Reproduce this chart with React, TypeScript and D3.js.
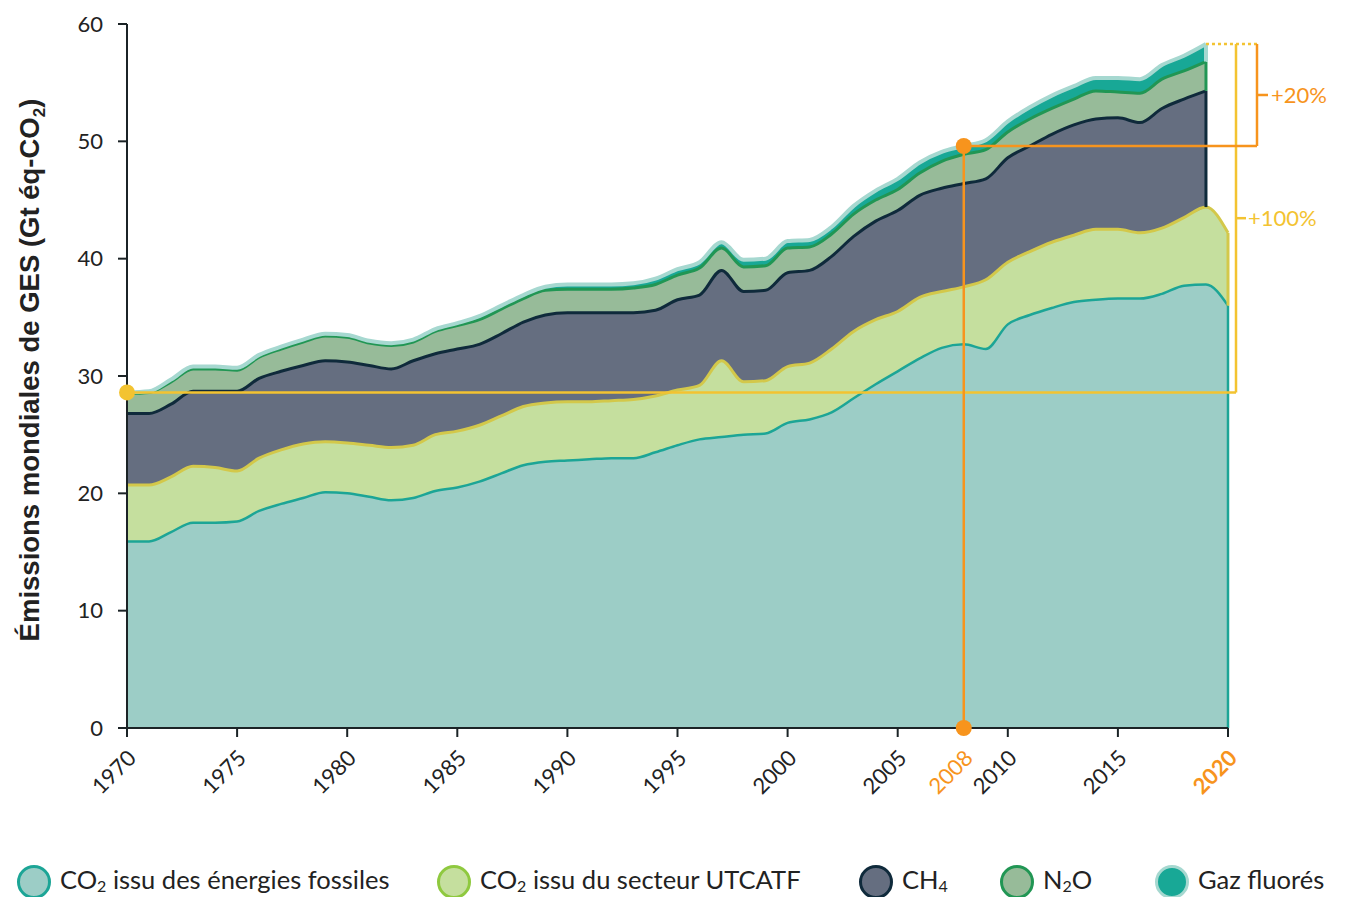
import React from 'react';
import * as d3 from 'd3';

const years = d3.range(1970, 2021);
const fossil = [15.9, 15.9, 16.7, 17.5, 17.5, 17.6, 18.5, 19.1, 19.6, 20.1, 20.0, 19.7, 19.4, 19.6, 20.2, 20.5, 21.0, 21.7, 22.4, 22.7, 22.8, 22.9, 23.0, 23.0, 23.5, 24.1, 24.6, 24.8, 25.0, 25.1, 26.0, 26.3, 26.9, 28.1, 29.3, 30.4, 31.5, 32.4, 32.7, 32.3, 34.4, 35.2, 35.8, 36.3, 36.5, 36.6, 36.6, 37.0, 37.7, 37.8, 36.0];
const utcatf = [4.8, 4.8, 4.7, 4.8, 4.7, 4.3, 4.5, 4.6, 4.6, 4.3, 4.3, 4.4, 4.5, 4.5, 4.8, 4.8, 4.8, 4.9, 5.0, 5.0, 5.0, 4.9, 4.9, 5.0, 4.8, 4.7, 4.6, 6.5, 4.5, 4.5, 4.8, 4.8, 5.4, 5.7, 5.5, 5.1, 5.2, 4.8, 4.9, 5.9, 5.3, 5.4, 5.6, 5.7, 6.0, 5.9, 5.6, 5.6, 5.8, 6.6, 6.2];
const ch4 = [6.1, 6.1, 6.2, 6.4, 6.5, 6.8, 6.8, 6.7, 6.7, 6.9, 6.9, 6.8, 6.7, 7.2, 6.9, 7.0, 6.9, 7.0, 7.2, 7.5, 7.6, 7.6, 7.5, 7.4, 7.3, 7.7, 7.7, 7.7, 7.7, 7.7, 8.0, 7.9, 7.9, 8.1, 8.4, 8.6, 8.7, 8.8, 8.8, 8.6, 8.9, 9.0, 9.2, 9.4, 9.4, 9.5, 9.4, 10.2, 10.1, 9.9];
const n2o = [1.7, 1.8, 1.9, 1.9, 1.9, 1.8, 1.8, 1.9, 2.0, 2.1, 2.1, 1.9, 2.0, 1.6, 1.9, 2.0, 2.1, 2.1, 2.0, 2.1, 2.0, 2.0, 2.0, 2.1, 2.2, 2.1, 2.3, 1.9, 2.1, 2.1, 2.1, 2.0, 1.9, 1.9, 1.8, 1.8, 1.9, 2.3, 2.5, 2.5, 2.2, 2.3, 2.2, 2.2, 2.4, 2.2, 2.5, 2.5, 2.4, 2.5];
const fgas = [0.1, 0.1, 0.2, 0.2, 0.2, 0.2, 0.2, 0.2, 0.2, 0.2, 0.2, 0.2, 0.2, 0.2, 0.2, 0.2, 0.3, 0.3, 0.3, 0.3, 0.4, 0.4, 0.4, 0.4, 0.5, 0.5, 0.5, 0.5, 0.6, 0.6, 0.6, 0.6, 0.6, 0.7, 0.8, 0.9, 0.9, 0.8, 0.7, 0.8, 0.9, 1.0, 1.1, 1.1, 1.1, 1.2, 1.2, 1.2, 1.3, 1.5];

const yTicks = [0, 10, 20, 30, 40, 50, 60];
const xTicks = [1970, 1975, 1980, 1985, 1990, 1995, 2000, 2005, 2010, 2015, 2020];
const refYear = 2008;
const startYear = 1970;
const lastYear = 2019;

const keys = ['fossil', 'utcatf', 'ch4', 'n2o', 'fgas'];
const styles: Record<string, { fill: string; stroke: string; sw: number; legendStroke: string }> = {
  fossil: { fill: '#9ccdc6', stroke: '#1ca596', sw: 2.5, legendStroke: '#1ca596' },
  utcatf: { fill: '#c5df9e', stroke: '#d3c84a', sw: 3, legendStroke: '#8fc93f' },
  ch4: { fill: '#656e80', stroke: '#0f2a3b', sw: 3, legendStroke: '#0f2a3b' },
  n2o: { fill: '#97bb99', stroke: '#219654', sw: 3, legendStroke: '#219654' },
  fgas: { fill: '#18a896', stroke: '#a6d8d0', sw: 4, legendStroke: '#a6d8d0' },
};

const legendItems = [
  { key: 'fossil', cx: 34, parts: [['CO', false], ['2', true], [' issu des énergies fossiles', false]] },
  { key: 'utcatf', cx: 454, parts: [['CO', false], ['2', true], [' issu du secteur UTCATF', false]] },
  { key: 'ch4', cx: 876, parts: [['CH', false], ['4', true]] },
  { key: 'n2o', cx: 1017, parts: [['N', false], ['2', true], ['O', false]] },
  { key: 'fgas', cx: 1172, parts: [['Gaz fluorés', false]] },
];

const YELLOW = '#f3c331';
const ORANGE = '#f7941d';
const FONT = 'Lato, "Noto Sans", sans-serif';

export default function App() {
  const W = 1347, H = 897;
  const x = d3.scaleLinear().domain([1970, 2020]).range([127, 1228]);
  const y = d3.scaleLinear().domain([0, 60]).range([728, 24]);

  const rows = years.map((yr, i) => ({
    year: yr,
    fossil: fossil[i],
    utcatf: utcatf[i],
    ch4: ch4[i] ?? NaN,
    n2o: n2o[i] ?? NaN,
    fgas: fgas[i] ?? NaN,
  }));

  const series = d3.stack<any>().keys(keys).value((d: any, k: string) => (isNaN(d[k]) ? 0 : d[k]))(rows);

  const makeArea = (k: string) =>
    d3.area<any>()
      .defined((d) => !isNaN(d.data[k]))
      .x((d) => x(d.data.year))
      .y0((d) => y(d[0]))
      .y1((d) => y(d[1]))
      .curve(d3.curveMonotoneX);
  const makeLine = (k: string) =>
    d3.line<any>()
      .defined((d) => !isNaN(d.data[k]))
      .x((d) => x(d.data.year))
      .y((d) => y(d[1]))
      .curve(d3.curveMonotoneX);

  const top = series[series.length - 1];
  const idx = (yr: number) => years.indexOf(yr);
  const total1970 = top[idx(startYear)][1];
  const total2008 = top[idx(refYear)][1];
  const total2019 = top[idx(lastYear)][1];

  const xEnd = x(2020);
  const yellowX = xEnd + 8;
  const orangeX = xEnd + 29;
  const yMidYellow = (y(total1970) + y(total2019)) / 2;
  const yMidOrange = (y(total2008) + y(total2019)) / 2;

  const xLabel = (t: number) => `translate(${x(t) + 5},${y(0) + 26}) rotate(-45)`;

  return (
    <svg width={W} height={H} style={{ position: 'absolute', left: 0, top: 0, background: '#fff' }} fontFamily={FONT}>
      {/* areas */}
      {series.map((s) => (
        <path key={'a' + s.key} d={makeArea(s.key)(s as any) || ''} fill={styles[s.key].fill} />
      ))}
      {/* top lines + right edges */}
      {series.map((s) => {
        const st = styles[s.key];
        const pts = (s as any[]).filter((d) => !isNaN(d.data[s.key]));
        const last = pts[pts.length - 1];
        return (
          <g key={'l' + s.key}>
            <path d={makeLine(s.key)(s as any) || ''} fill="none" stroke={st.stroke} strokeWidth={st.sw} strokeLinejoin="round" />
            <line x1={x(last.data.year)} x2={x(last.data.year)} y1={y(last[1])} y2={y(last[0])} stroke={st.stroke} strokeWidth={st.sw} />
          </g>
        );
      })}

      {/* axes */}
      <line x1={127} x2={127} y1={y(60)} y2={y(0)} stroke="#1b2326" strokeWidth={2} />
      <line x1={127} x2={x(2020)} y1={y(0)} y2={y(0)} stroke="#1b2326" strokeWidth={2} />
      {yTicks.map((t) => (
        <g key={'yt' + t}>
          <line x1={118} x2={127} y1={y(t)} y2={y(t)} stroke="#1b2326" strokeWidth={2} />
          <text x={103} y={y(t)} dy="0.35em" textAnchor="end" fontSize={22} fill="#222">{t}</text>
        </g>
      ))}
      {xTicks.map((t) => (
        <g key={'xt' + t}>
          <line x1={x(t)} x2={x(t)} y1={y(0)} y2={y(0) + 9} stroke="#1b2326" strokeWidth={2} />
          <text
            transform={xLabel(t)}
            textAnchor="end"
            dy="0.35em"
            fontSize={22}
            fill={t === 2020 ? ORANGE : '#222'}
            fontWeight={t === 2020 ? 700 : 400}
          >
            {t}
          </text>
        </g>
      ))}
      <text transform={xLabel(refYear)} textAnchor="end" dy="0.35em" fontSize={22} fill={ORANGE}>
        {refYear}
      </text>

      {/* y title */}
      <text
        transform={`translate(39,${370}) rotate(-90)`}
        textAnchor="middle"
        fontSize={27.5}
        fontWeight={700}
        fontFamily='"Liberation Sans", Arial, sans-serif'
        fill="#222"
      >
        Émissions mondiales de GES (Gt éq-CO<tspan fontSize={17} dy={6}>2</tspan><tspan dy={-6}>)</tspan>
      </text>

      {/* yellow annotation */}
      <line x1={x(startYear)} x2={yellowX} y1={y(total1970)} y2={y(total1970)} stroke={YELLOW} strokeWidth={2.5} />
      <line x1={yellowX} x2={yellowX} y1={y(total1970)} y2={y(total2019)} stroke={YELLOW} strokeWidth={2.5} />
      <line x1={x(lastYear)} x2={orangeX} y1={y(total2019)} y2={y(total2019)} stroke={YELLOW} strokeWidth={2.5} strokeDasharray="3,3" />
      <line x1={yellowX} x2={yellowX + 10} y1={yMidYellow} y2={yMidYellow} stroke={YELLOW} strokeWidth={2.5} />
      <text x={yellowX + 12} y={yMidYellow} dy="0.35em" fontSize={22} fill={YELLOW}>+100%</text>
      <circle cx={x(startYear)} cy={y(total1970)} r={8} fill={YELLOW} />

      {/* orange annotation */}
      <line x1={x(refYear)} x2={x(refYear)} y1={y(0)} y2={y(total2008)} stroke={ORANGE} strokeWidth={2.5} />
      <line x1={x(refYear)} x2={orangeX} y1={y(total2008)} y2={y(total2008)} stroke={ORANGE} strokeWidth={2.5} />
      <line x1={orangeX} x2={orangeX} y1={y(total2008)} y2={y(total2019)} stroke={ORANGE} strokeWidth={2.5} />
      <line x1={orangeX} x2={orangeX + 11} y1={yMidOrange} y2={yMidOrange} stroke={ORANGE} strokeWidth={2.5} />
      <text x={orangeX + 14} y={yMidOrange} dy="0.35em" fontSize={22} fill={ORANGE}>+20%</text>
      <circle cx={x(refYear)} cy={y(total2008)} r={8} fill={ORANGE} />
      <circle cx={x(refYear)} cy={y(0)} r={8} fill={ORANGE} />

      {/* legend */}
      {legendItems.map((it) => (
        <g key={'lg' + it.key}>
          <circle cx={it.cx} cy={882} r={15.5} fill={styles[it.key].fill} stroke={styles[it.key].legendStroke} strokeWidth={3} />
          <text x={it.cx + 26} y={889} fontSize={25.5} fill="#222">
            {it.parts.map((p, j) =>
              p[1] ? (
                <tspan key={j} fontSize={16} dy={3}>{p[0] as string}</tspan>
              ) : (
                <tspan key={j} dy={j > 0 && it.parts[j - 1][1] ? -3 : 0}>{p[0] as string}</tspan>
              )
            )}
          </text>
        </g>
      ))}
    </svg>
  );
}
